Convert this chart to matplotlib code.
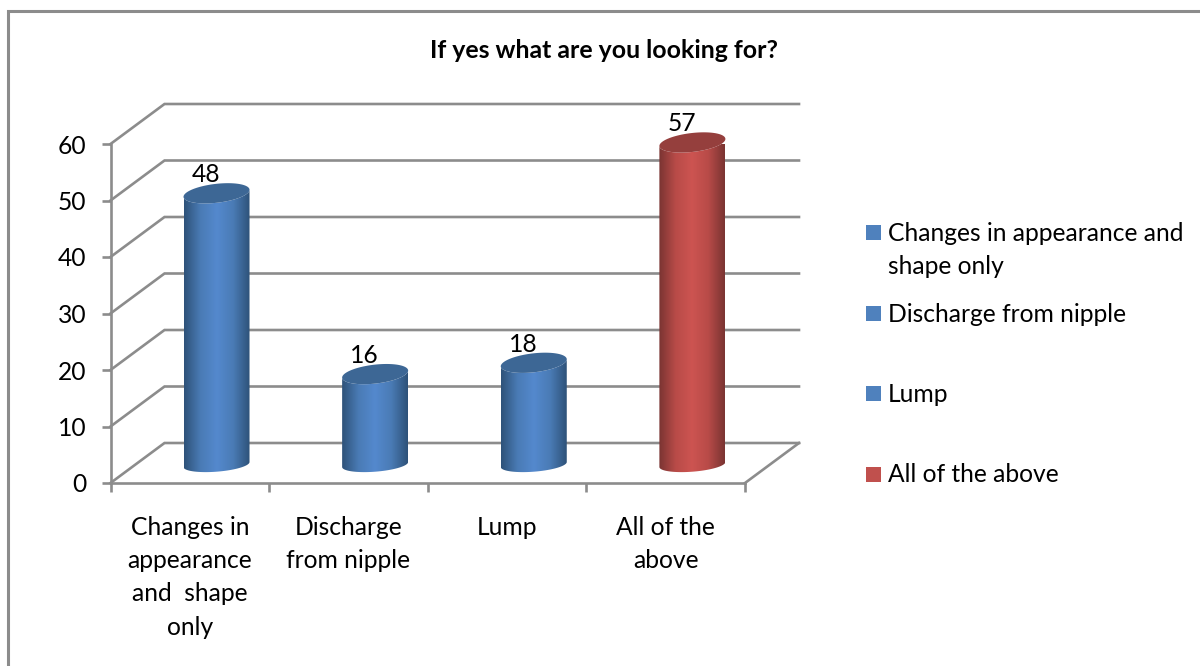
import numpy as np
import matplotlib
matplotlib.use("Agg")
import matplotlib.pyplot as plt
from matplotlib.patches import Polygon, Rectangle
from matplotlib.colors import LinearSegmentedColormap
from matplotlib.lines import Line2D

# --- data ---
categories = ["Changes in\nappearance\nand  shape\nonly", "Discharge\nfrom nipple", "Lump", "All of the\nabove"]
values = [48, 16, 18, 57]
bar_labels = ["48", "16", "18", "57"]
legend_labels = ["Changes in appearance and\nshape only", "Discharge from nipple", "Lump", "All of the above"]
title = "If yes what are you looking for?"
y_ticks = [0, 10, 20, 30, 40, 50, 60]

# --- style ---
W, H = 1200, 666
GRAY = "#8C8C8C"
FONT = "Lato"
FS = 17.7
plt.rcParams["font.family"] = [FONT, "DejaVu Sans"]
blue = ["#2E5279", "#4A7BB5", "#5489CE", "#4A7BB5", "#2E5279"]
red = ["#7A3432", "#B84B48", "#CD5451", "#B84B48", "#7A3432"]
blue_top, red_top = "#3D6795", "#953F3D"
bar_cols = [(blue, blue_top), (blue, blue_top), (blue, blue_top), (red, red_top)]
legend_cols = ["#4F81BD", "#4F81BD", "#4F81BD", "#C0504D"]
legend_y = [232.5, 313, 393, 474]

fig = plt.figure(figsize=(W / 100, H / 100), dpi=100, facecolor="white")
L, R, B, T = 110.5, 745, 483, 144
ax = fig.add_axes([L / W, 1 - B / H, (R - L) / W, (B - T) / H])
ax.set_facecolor("none")
xpx = (R - L) / 4
ypx = (B - T) / 60
DX, DY = 54 / xpx, 40 / ypx

# gridlines: side wall diagonals and back wall
for v in y_ticks:
    ax.plot([0, DX, 4 + DX], [v, v + DY, v + DY], color=GRAY, lw=1.9, clip_on=False,
            solid_joinstyle="miter", zorder=1)
ax.plot([4, 4 + DX], [0, DY], color=GRAY, lw=1.9, clip_on=False, zorder=1)

# cylinders
t = np.linspace(0, 2 * np.pi, 181)
a = 33 / xpx
b_bot, b_top = 7.2 / ypx, 9.5 / ypx
k_bot, k_top = 2.5 / ypx, 3.5 / ypx
y_base = (B - 464.5) / ypx
for i, (v, lab, (grad, top_c)) in enumerate(zip(values, bar_labels, bar_cols)):
    cx = i + 0.5 + 26.7 / xpx
    yb = y_base
    yt = y_base + v
    tt = np.linspace(np.pi, 2 * np.pi, 91)
    bx = cx + a * np.cos(tt)
    by = yb + b_bot * np.sin(tt) + k_bot * np.cos(tt)
    ux = cx + a * np.cos(tt[::-1])
    uy = yt + b_top * np.sin(tt[::-1]) + k_top * np.cos(tt[::-1])
    body = Polygon(np.c_[np.r_[bx, ux], np.r_[by, uy]], closed=True, transform=ax.transData,
                   facecolor="none", edgecolor="none")
    ax.add_patch(body)
    cmap = LinearSegmentedColormap.from_list("c", grad)
    im = ax.imshow(np.linspace(0, 1, 128)[None, :], cmap=cmap, aspect="auto",
                   extent=[cx - a, cx + a, yb - 3 * b_bot, yt + 3 * b_top], zorder=3, interpolation="bilinear")
    im.set_clip_path(body)
    ex = cx + a * np.cos(t)
    ey = yt + b_top * np.sin(t) + k_top * np.cos(t)
    ax.add_patch(Polygon(np.c_[ex, ey], closed=True, facecolor=top_c, edgecolor="none",
                         clip_on=False, zorder=4))
    ax.annotate(lab, (cx, yt), xytext=(-7.5, 13.5), textcoords="offset points", ha="center",
                va="center", fontsize=FS, color="black", zorder=5, annotation_clip=False)

ax.set_xlim(0, 4)
ax.set_ylim(0, 60)

# axes
for s in ("top", "right"):
    ax.spines[s].set_visible(False)
for s in ("left", "bottom"):
    ax.spines[s].set_color(GRAY)
    ax.spines[s].set_linewidth(1.9)
ax.set_yticks(y_ticks)
ax.tick_params(axis="y", length=6.2, width=1.9, color=GRAY, labelsize=FS, pad=11)
ax.set_xticks(range(5))
ax.set_xticklabels([])
ax.tick_params(axis="x", which="major", length=6.2, width=1.9, color=GRAY)
ax.set_xticks(np.arange(4) + 0.5, minor=True)
ax.set_xticklabels(categories, minor=True, fontsize=FS, linespacing=1.53)
ax.tick_params(axis="x", which="minor", length=0, pad=24)

# title
fig.text(604 / W, 1 - 50 / H, title, ha="center", va="center", fontsize=17.9, fontweight="bold", color="black")

# legend
for lab, col, y in zip(legend_labels, legend_cols, legend_y):
    fig.add_artist(Rectangle((866 / W, 1 - (y + 7.5) / H), 15 / W, 15 / H, transform=fig.transFigure,
                             facecolor=col, edgecolor="none"))
    fig.text(888 / W, 1 - (y - 10.5) / H, lab, ha="left", va="top", fontsize=FS, linespacing=1.53)

# outer chart frame
fig.add_artist(Line2D([8 / W, 8 / W, 1], [0, 1 - 10.5 / H, 1 - 10.5 / H], transform=fig.transFigure,
                      color=GRAY, lw=2.2, solid_joinstyle="miter"))

fig.savefig("out.png", dpi=100)
